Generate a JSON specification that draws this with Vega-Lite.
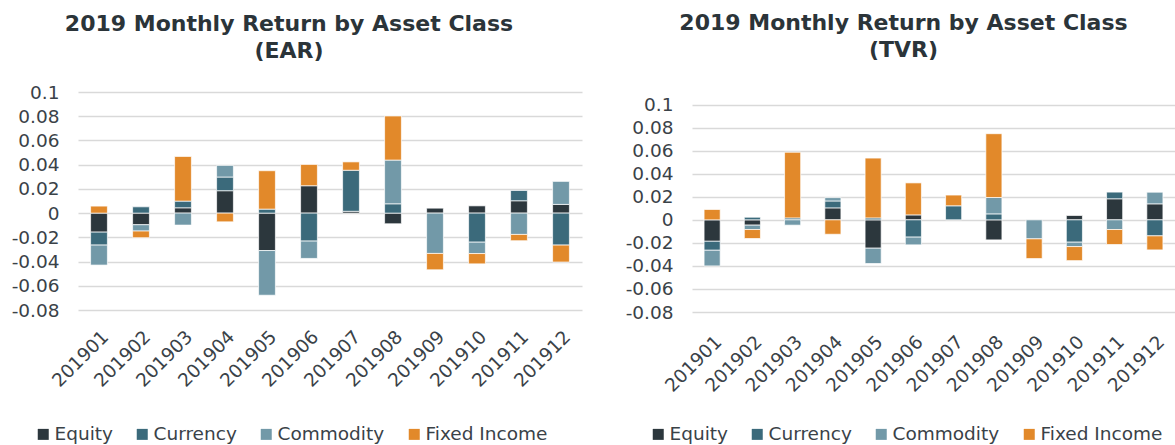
{
  "$schema": "https://vega.github.io/schema/vega-lite/v6.json",
  "padding": {"left": 11, "top": 12, "right": 0, "bottom": 0},
  "spacing": 43,
  "background": "white",
  "datasets": {
    "ear": [
      {"month": "201901", "asset": "Equity", "value": -0.0157},
      {"month": "201901", "asset": "Currency", "value": -0.0107},
      {"month": "201901", "asset": "Commodity", "value": -0.0165},
      {"month": "201901", "asset": "Fixed Income", "value": 0.0058},
      {"month": "201902", "asset": "Equity", "value": -0.0096},
      {"month": "201902", "asset": "Currency", "value": 0.0052},
      {"month": "201902", "asset": "Commodity", "value": -0.0052},
      {"month": "201902", "asset": "Fixed Income", "value": -0.0055},
      {"month": "201903", "asset": "Equity", "value": 0.0044},
      {"month": "201903", "asset": "Currency", "value": 0.0055},
      {"month": "201903", "asset": "Commodity", "value": -0.0099},
      {"month": "201903", "asset": "Fixed Income", "value": 0.0369},
      {"month": "201904", "asset": "Equity", "value": 0.0185},
      {"month": "201904", "asset": "Currency", "value": 0.0113},
      {"month": "201904", "asset": "Commodity", "value": 0.0096},
      {"month": "201904", "asset": "Fixed Income", "value": -0.0072},
      {"month": "201905", "asset": "Equity", "value": -0.0309},
      {"month": "201905", "asset": "Currency", "value": 0.0033},
      {"month": "201905", "asset": "Commodity", "value": -0.0369},
      {"month": "201905", "asset": "Fixed Income", "value": 0.0317},
      {"month": "201906", "asset": "Equity", "value": 0.0226},
      {"month": "201906", "asset": "Currency", "value": -0.0231},
      {"month": "201906", "asset": "Commodity", "value": -0.0143},
      {"month": "201906", "asset": "Fixed Income", "value": 0.0176},
      {"month": "201907", "asset": "Equity", "value": 0.0015},
      {"month": "201907", "asset": "Currency", "value": 0.0339},
      {"month": "201907", "asset": "Fixed Income", "value": 0.0069},
      {"month": "201908", "asset": "Equity", "value": -0.0088},
      {"month": "201908", "asset": "Currency", "value": 0.0077},
      {"month": "201908", "asset": "Commodity", "value": 0.0361},
      {"month": "201908", "asset": "Fixed Income", "value": 0.0364},
      {"month": "201909", "asset": "Equity", "value": 0.0041},
      {"month": "201909", "asset": "Commodity", "value": -0.0333},
      {"month": "201909", "asset": "Fixed Income", "value": -0.0135},
      {"month": "201910", "asset": "Equity", "value": 0.006},
      {"month": "201910", "asset": "Currency", "value": -0.024},
      {"month": "201910", "asset": "Commodity", "value": -0.0094},
      {"month": "201910", "asset": "Fixed Income", "value": -0.0085},
      {"month": "201911", "asset": "Equity", "value": 0.0102},
      {"month": "201911", "asset": "Currency", "value": 0.0085},
      {"month": "201911", "asset": "Commodity", "value": -0.0176},
      {"month": "201911", "asset": "Fixed Income", "value": -0.0052},
      {"month": "201912", "asset": "Equity", "value": 0.0072},
      {"month": "201912", "asset": "Currency", "value": -0.0264},
      {"month": "201912", "asset": "Commodity", "value": 0.019},
      {"month": "201912", "asset": "Fixed Income", "value": -0.014}
    ],
    "tvr": [
      {"month": "201901", "asset": "Equity", "value": -0.0186},
      {"month": "201901", "asset": "Currency", "value": -0.0078},
      {"month": "201901", "asset": "Commodity", "value": -0.0136},
      {"month": "201901", "asset": "Fixed Income", "value": 0.009},
      {"month": "201902", "asset": "Equity", "value": -0.0046},
      {"month": "201902", "asset": "Currency", "value": 0.0023},
      {"month": "201902", "asset": "Commodity", "value": -0.0038},
      {"month": "201902", "asset": "Fixed Income", "value": -0.0078},
      {"month": "201903", "asset": "Currency", "value": 0.0017},
      {"month": "201903", "asset": "Commodity", "value": -0.0046},
      {"month": "201903", "asset": "Fixed Income", "value": 0.057},
      {"month": "201904", "asset": "Equity", "value": 0.0104},
      {"month": "201904", "asset": "Currency", "value": 0.006},
      {"month": "201904", "asset": "Commodity", "value": 0.0029},
      {"month": "201904", "asset": "Fixed Income", "value": -0.0125},
      {"month": "201905", "asset": "Equity", "value": -0.0246},
      {"month": "201905", "asset": "Currency", "value": 0.0017},
      {"month": "201905", "asset": "Commodity", "value": -0.0133},
      {"month": "201905", "asset": "Fixed Income", "value": 0.0519},
      {"month": "201906", "asset": "Equity", "value": 0.0043},
      {"month": "201906", "asset": "Currency", "value": -0.015},
      {"month": "201906", "asset": "Commodity", "value": -0.0067},
      {"month": "201906", "asset": "Fixed Income", "value": 0.0278},
      {"month": "201907", "asset": "Currency", "value": 0.0122},
      {"month": "201907", "asset": "Fixed Income", "value": 0.0093},
      {"month": "201908", "asset": "Equity", "value": -0.0174},
      {"month": "201908", "asset": "Currency", "value": 0.0052},
      {"month": "201908", "asset": "Commodity", "value": 0.0142},
      {"month": "201908", "asset": "Fixed Income", "value": 0.0554},
      {"month": "201909", "asset": "Commodity", "value": -0.0165},
      {"month": "201909", "asset": "Fixed Income", "value": -0.0171},
      {"month": "201910", "asset": "Equity", "value": 0.0038},
      {"month": "201910", "asset": "Currency", "value": -0.0194},
      {"month": "201910", "asset": "Commodity", "value": -0.0038},
      {"month": "201910", "asset": "Fixed Income", "value": -0.0122},
      {"month": "201911", "asset": "Equity", "value": 0.0183},
      {"month": "201911", "asset": "Currency", "value": 0.0058},
      {"month": "201911", "asset": "Commodity", "value": -0.0084},
      {"month": "201911", "asset": "Fixed Income", "value": -0.013},
      {"month": "201912", "asset": "Equity", "value": 0.0139},
      {"month": "201912", "asset": "Currency", "value": -0.0139},
      {"month": "201912", "asset": "Commodity", "value": 0.0101},
      {"month": "201912", "asset": "Fixed Income", "value": -0.0122}
    ]
  },
  "config": {
    "view": {"stroke": null},
    "font": "DejaVu Sans",
    "axis": {
      "labelFont": "DejaVu Sans",
      "labelFontSize": 18.5,
      "labelColor": "#3a4248",
      "ticks": false,
      "domain": false,
      "title": null
    },
    "legend": {
      "labelFont": "DejaVu Sans",
      "labelFontSize": 18.5,
      "labelColor": "#3a4248",
      "symbolType": "square",
      "symbolSize": 121,
      "symbolStrokeWidth": 0,
      "labelOffset": 2,
      "columnPadding": 20,
      "direction": "horizontal",
      "orient": "none",
      "title": null
    },
    "title": {
      "font": "DejaVu Sans",
      "fontSize": 22,
      "fontWeight": "bold",
      "color": "#2b3439",
      "lineHeight": 27,
      "anchor": "middle",
      "frame": "group"
    }
  },
  "resolve": {"scale": {"color": "independent", "y": "independent", "x": "independent"}},
  "hconcat": [
    {
      "width": 504,
      "height": 218,
      "title": {"text": ["2019 Monthly Return by Asset Class", "(EAR)"], "dx": -41, "offset": 20},
      "data": {"name": "ear"},
      "transform": [{"calculate": "indexof(['Equity','Currency','Commodity','Fixed Income'], datum.asset)", "as": "stackOrder"}],
      "mark": {"type": "bar", "stroke": "white", "strokeWidth": 0.7},
      "encoding": {
        "x": {"field": "month", "type": "ordinal", "scale": {"paddingInner": 0.6, "paddingOuter": 0.3},
              "axis": {"labelAngle": -45, "labelPadding": 17, "grid": false}},
        "y": {"field": "value", "type": "quantitative", "stack": "zero",
              "scale": {"domain": [-0.08, 0.1], "nice": false, "zero": false},
              "axis": {"values": [-0.08, -0.06, -0.04, -0.02, 0, 0.02, 0.04, 0.06, 0.08, 0.1],
                       "labelExpr": "replace(format(datum.value, '~g'), '\u2212', '-')",
                       "labelPadding": 19, "grid": true, "gridColor": "#d9d9d9", "gridWidth": 1.5}},
        "color": {"field": "asset", "type": "nominal",
                  "scale": {"domain": ["Equity", "Currency", "Commodity", "Fixed Income"],
                            "range": ["#2c373d", "#3b6a7b", "#7299a8", "#e2892a"]},
                  "legend": {"legendX": -44, "legendY": 333}},
        "order": {"field": "stackOrder", "type": "quantitative"}
      }
    },
    {
      "width": 483,
      "height": 220,
      "title": {"text": ["2019 Monthly Return by Asset Class", "(TVR)"], "dx": -30, "offset": 30},
      "data": {"name": "tvr"},
      "transform": [{"calculate": "indexof(['Equity','Currency','Commodity','Fixed Income'], datum.asset)", "as": "stackOrder"}],
      "mark": {"type": "bar", "stroke": "white", "strokeWidth": 0.7},
      "encoding": {
        "x": {"field": "month", "type": "ordinal", "scale": {"paddingInner": 0.6, "paddingOuter": 0.3},
              "axis": {"labelAngle": -45, "labelPadding": 20, "grid": false}},
        "y": {"field": "value", "type": "quantitative", "stack": "zero",
              "scale": {"domain": [-0.08, 0.111], "nice": false, "zero": false},
              "axis": {"values": [-0.08, -0.06, -0.04, -0.02, 0, 0.02, 0.04, 0.06, 0.08, 0.1],
                       "labelExpr": "replace(format(datum.value, '~g'), '\u2212', '-')",
                       "labelPadding": 19, "grid": true, "gridColor": "#d9d9d9", "gridWidth": 1.5}},
        "color": {"field": "asset", "type": "nominal",
                  "scale": {"domain": ["Equity", "Currency", "Commodity", "Fixed Income"],
                            "range": ["#2c373d", "#3b6a7b", "#7299a8", "#e2892a"]},
                  "legend": {"legendX": -43, "legendY": 333}},
        "order": {"field": "stackOrder", "type": "quantitative"}
      }
    }
  ]
}
